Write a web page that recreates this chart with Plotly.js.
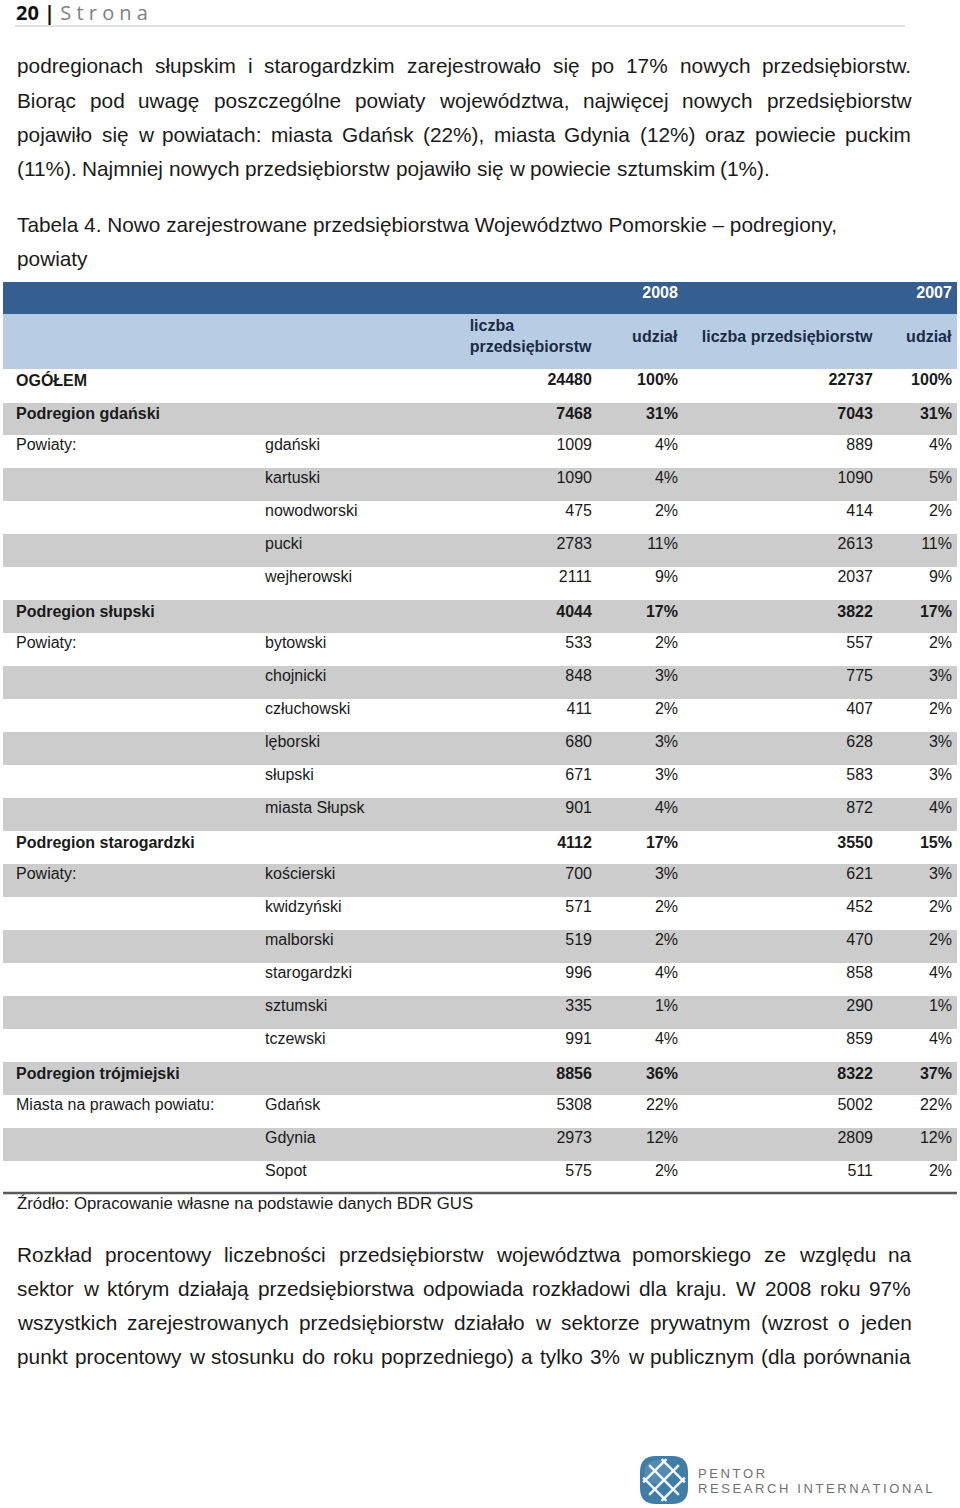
<!DOCTYPE html>
<html>
<head>
<meta charset="utf-8">
<script src="https://cdn.plot.ly/plotly-3.0.1.min.js"></script>
<style>
  html, body { margin: 0; padding: 0; background: #fff; }
  #page { width: 960px; height: 1508px; }
</style>
</head>
<body>
<div id="page"></div>
<script>
// table data
var labels = ["OGÓŁEM", "Podregion gdański", "Powiaty:", "", "", "", "", "Podregion słupski", "Powiaty:", "", "", "", "", "",
  "Podregion starogardzki", "Powiaty:", "", "", "", "", "", "Podregion trójmiejski", "Miasta na prawach powiatu:", "", ""];
var powiaty = ["", "", "gdański", "kartuski", "nowodworski", "pucki", "wejherowski", "", "bytowski", "chojnicki", "człuchowski",
  "lęborski", "słupski", "miasta Słupsk", "", "kościerski", "kwidzyński", "malborski", "starogardzki", "sztumski", "tczewski",
  "", "Gdańsk", "Gdynia", "Sopot"];
var count2008 = [24480, 7468, 1009, 1090, 475, 2783, 2111, 4044, 533, 848, 411, 680, 671, 901, 4112, 700, 571, 519, 996, 335, 991, 8856, 5308, 2973, 575];
var share2008 = [100, 31, 4, 4, 2, 11, 9, 17, 2, 3, 2, 3, 3, 4, 17, 3, 2, 2, 4, 1, 4, 36, 22, 12, 2];
var count2007 = [22737, 7043, 889, 1090, 414, 2613, 2037, 3822, 557, 775, 407, 628, 583, 872, 3550, 621, 452, 470, 858, 290, 859, 8322, 5002, 2809, 511];
var share2007 = [100, 31, 4, 5, 2, 11, 9, 17, 2, 3, 2, 3, 3, 4, 15, 3, 2, 2, 4, 1, 4, 37, 22, 12, 2];
var boldRows = [0, 1, 7, 14, 21];
var years = ["2008", "2007"];
var subHeads = ["liczba<br>przedsiębiorstw", "udział", "liczba przedsiębiorstw", "udział"];

// page text
var para1 = [
  "podregionach słupskim i starogardzkim zarejestrowało się po 17% nowych przedsiębiorstw.",
  "Biorąc pod uwagę poszczególne powiaty województwa, najwięcej nowych przedsiębiorstw",
  "pojawiło się w powiatach: miasta Gdańsk (22%), miasta Gdynia (12%) oraz powiecie puckim",
  "(11%). Najmniej nowych przedsiębiorstw pojawiło się w powiecie sztumskim (1%)."
];
var caption = ["Tabela 4. Nowo zarejestrowane przedsiębiorstwa Województwo Pomorskie – podregiony,", "powiaty"];
var source = "Źródło: Opracowanie własne na podstawie danych BDR GUS";
var para2 = [
  "Rozkład procentowy liczebności przedsiębiorstw województwa pomorskiego ze względu na",
  "sektor w którym działają przedsiębiorstwa odpowiada rozkładowi dla kraju. W 2008 roku 97%",
  "wszystkich zarejestrowanych przedsiębiorstw działało w sektorze prywatnym (wzrost o jeden",
  "punkt procentowy w stosunku do roku poprzedniego) a tylko 3% w publicznym (dla porównania"
];

var W = 960, H = 1508;
function px(x) { return x / W; }
function py(y) { return 1 - y / H; }

var SANS = "Liberation Sans, Arial, Helvetica, sans-serif";
var NARROW = "Liberation Sans Narrow, Arial Narrow, Liberation Sans, sans-serif";
var TEXT = "#1a1a1a", NAVY = "#1c2b45";
var DARK = "#365f91", LIGHT = "#b8cce4", GRAY = "#cccccc";
var NONE = "rgba(0,0,0,0)";

function b(s) { return s === "" ? "" : "<b>" + s + "</b>"; }
function boldIf(arr) {
  return arr.map(function (v, i) { return boldRows.indexOf(i) >= 0 ? b(String(v)) : String(v); });
}
function pct(arr) { return arr.map(function (v) { return v + "%"; }); }
function each(cols, v) { return cols.map(function () { return v; }); }

var blank = labels.map(function () { return ""; });
var rowFill = labels.map(function (d, i) { return i % 2 ? GRAY : "white"; });

var cellValues = [blank, boldIf(labels), powiaty, boldIf(count2008), boldIf(pct(share2008)), boldIf(count2007), boldIf(pct(share2007))];
var aligns = ["left", "left", "left", "right", "right", "right", "right"];
var widths = [5, 249, 193, 150, 86, 195, 79];

// 1) header band: dark row 31px, light row 56px
var headBand = {
  type: "table",
  domain: { x: [3 / W, 957 / W], y: [py(380), py(282)] },
  columnwidth: widths,
  header: {
    values: each(widths, ""),
    height: 31,
    fill: { color: DARK },
    line: { color: DARK, width: 1 }
  },
  cells: {
    values: each(widths, [""]),
    height: 56,
    fill: { color: LIGHT },
    line: { color: LIGHT, width: 1 }
  }
};

// 2) body stripes, 33px rows (first row white, then alternating grey)
var stripes = rowFill.slice(1);
var bodyBand = {
  type: "table",
  domain: { x: [3 / W, 957 / W], y: [py(1240), py(369)] },
  columnwidth: widths,
  header: {
    values: each(widths, ""),
    height: 33,
    fill: { color: rowFill[0] },
    line: { color: rowFill[0], width: 1 }
  },
  cells: {
    values: each(widths, blank.slice(1)),
    height: 33,
    fill: { color: each(widths, stripes) },
    line: { color: each(widths, stripes), width: 1 }
  }
};

// 3) the cell text, nudged up so it sits centred in the rows
var headerText = [
  ["", ""], ["", ""], ["", ""],
  ["", "<b>liczba</b><br><b>przedsiębiorstw</b>"],
  [b(years[0]), ""],
  ["", ""],
  [b(years[1]), ""]
];
var lift = 6;
var text = {
  type: "table",
  domain: { x: [3 / W, 1], y: [py(1240 - lift), py(282 - lift)] },
  columnwidth: widths,
  header: {
    values: headerText,
    align: aligns,
    height: 31,
    fill: { color: NONE },
    line: { color: NONE, width: 0 },
    font: { family: NARROW, size: 16, color: each(headerText, ["white", NAVY]) }
  },
  cells: {
    values: cellValues,
    align: aligns,
    height: 33,
    fill: { color: NONE },
    line: { color: NONE, width: 0 },
    font: { family: SANS, size: 16, color: TEXT }
  }
};

// 4) single-line sub headers, centred in the tall light row
var subText = {
  type: "table",
  domain: { x: [3 / W, 1], y: [py(420), py(320)] },
  columnwidth: widths,
  header: {
    values: ["", "", "", "", b(subHeads[1]), b(subHeads[2]), b(subHeads[3])],
    align: aligns,
    height: 31,
    fill: { color: NONE },
    line: { color: NONE, width: 0 },
    font: { family: NARROW, size: 16, color: NAVY }
  },
  cells: {
    values: each(widths, [""]),
    height: 20,
    fill: { color: NONE },
    line: { color: NONE, width: 0 }
  }
};

// text as annotations, justified lines spread word by word
var annotations = [];
var ctx = document.createElement("canvas").getContext("2d");
var LEFT = 16, RIGHT = 910, BODY_SIZE = 20.8;

function textAt(str, x, y, size, opts) {
  var a = {
    text: str, x: px(x), y: py(y), xref: "paper", yref: "paper",
    xanchor: "left", yanchor: "middle", showarrow: false, borderpad: 0,
    font: { family: SANS, size: size, color: TEXT }
  };
  for (var k in opts) a[k] = opts[k];
  annotations.push(a);
}

function justified(line, y, stretch) {
  ctx.font = BODY_SIZE + "px 'Liberation Sans'";
  var words = line.split(" ");
  var w = words.map(function (s) { return ctx.measureText(s).width; });
  var total = w.reduce(function (a, c) { return a + c; }, 0);
  var gap = stretch ? (RIGHT - LEFT - total) / (words.length - 1) : ctx.measureText(" ").width;
  var x = LEFT;
  words.forEach(function (s, i) {
    textAt(s, x, y, BODY_SIZE);
    x += w[i] + gap;
  });
}

para1.forEach(function (line, i) { justified(line, 66 + i * 34.3, i < para1.length - 1); });
textAt(caption[0], LEFT, 224, BODY_SIZE);
textAt(caption[1], LEFT, 259, BODY_SIZE);
textAt(source, LEFT, 1203, 16.8);
para2.forEach(function (line, i) { justified(line, 1254 + i * 34.3, true); });

// page header
textAt("<b>20 | </b><span style='color:#7f7f7f'>S t r o n a</span>", 15, 12, 20,
  { font: { family: "Open Sans, sans-serif", size: 20, color: "#111" } });

// logo lettering
var thin = "\u2009";
textAt("PENTOR".split("").join(thin), 697, 1473, 13, { font: { family: SANS, size: 13, color: "#707070" } });
textAt("RESEARCH INTERNATIONAL".split("").join(thin), 697, 1488, 13, { font: { family: SANS, size: 13, color: "#707070" } });

var shapes = [
  { type: "line", xref: "paper", yref: "paper", x0: px(15), x1: px(905), y0: py(26), y1: py(26),
    line: { color: "#d6d6d6", width: 1.5 } },
  { type: "line", xref: "paper", yref: "paper", x0: px(3), x1: px(957), y0: py(1193), y1: py(1193),
    line: { color: "#5a5a5a", width: 2.5 } }
];

// logo globe
var cx = 664, cy = 1480, r = 24;
function roundedSquare(x0, y0, s, rad) {
  var p = [];
  p.push("M" + px(x0 + rad) + "," + py(y0));
  p.push("L" + px(x0 + s - rad) + "," + py(y0));
  p.push("Q" + px(x0 + s) + "," + py(y0) + " " + px(x0 + s) + "," + py(y0 + rad));
  p.push("L" + px(x0 + s) + "," + py(y0 + s - rad));
  p.push("Q" + px(x0 + s) + "," + py(y0 + s) + " " + px(x0 + s - rad) + "," + py(y0 + s));
  p.push("L" + px(x0 + rad) + "," + py(y0 + s));
  p.push("Q" + px(x0) + "," + py(y0 + s) + " " + px(x0) + "," + py(y0 + s - rad));
  p.push("L" + px(x0) + "," + py(y0 + rad));
  p.push("Q" + px(x0) + "," + py(y0) + " " + px(x0 + rad) + "," + py(y0));
  return p.join(" ") + " Z";
}
shapes.push({ type: "path", xref: "paper", yref: "paper", path: roundedSquare(cx - r, cy - r, 2 * r, 16),
  fillcolor: "#3f7ca6", line: { width: 0 } });
shapes.push({ type: "circle", xref: "paper", yref: "paper", x0: px(cx - 20), x1: px(cx + 6), y0: py(cy - 20), y1: py(cy + 4),
  fillcolor: "rgba(255,255,255,0.12)", line: { width: 0 } });
[-13, 0, 13].forEach(function (d) {
  var h = Math.sqrt(21 * 21 - d * d);
  var s = Math.SQRT1_2;
  shapes.push({ type: "line", xref: "paper", yref: "paper",
    x0: px(cx + d * s - h * s), y0: py(cy - d * s - h * s), x1: px(cx + d * s + h * s), y1: py(cy - d * s + h * s),
    line: { color: "rgba(255,255,255,0.9)", width: 2.5 } });
  shapes.push({ type: "line", xref: "paper", yref: "paper",
    x0: px(cx + d * s - h * s), y0: py(cy + d * s + h * s), x1: px(cx + d * s + h * s), y1: py(cy + d * s - h * s),
    line: { color: "rgba(255,255,255,0.9)", width: 2.5 } });
});

var layout = {
  width: W, height: H,
  margin: { l: 0, r: 0, t: 0, b: 0 },
  paper_bgcolor: "white",
  showlegend: false,
  annotations: annotations,
  shapes: shapes
};

Plotly.newPlot("page", [headBand, bodyBand, text, subText], layout, { displayModeBar: false, staticPlot: true });
</script>
</body>
</html>
